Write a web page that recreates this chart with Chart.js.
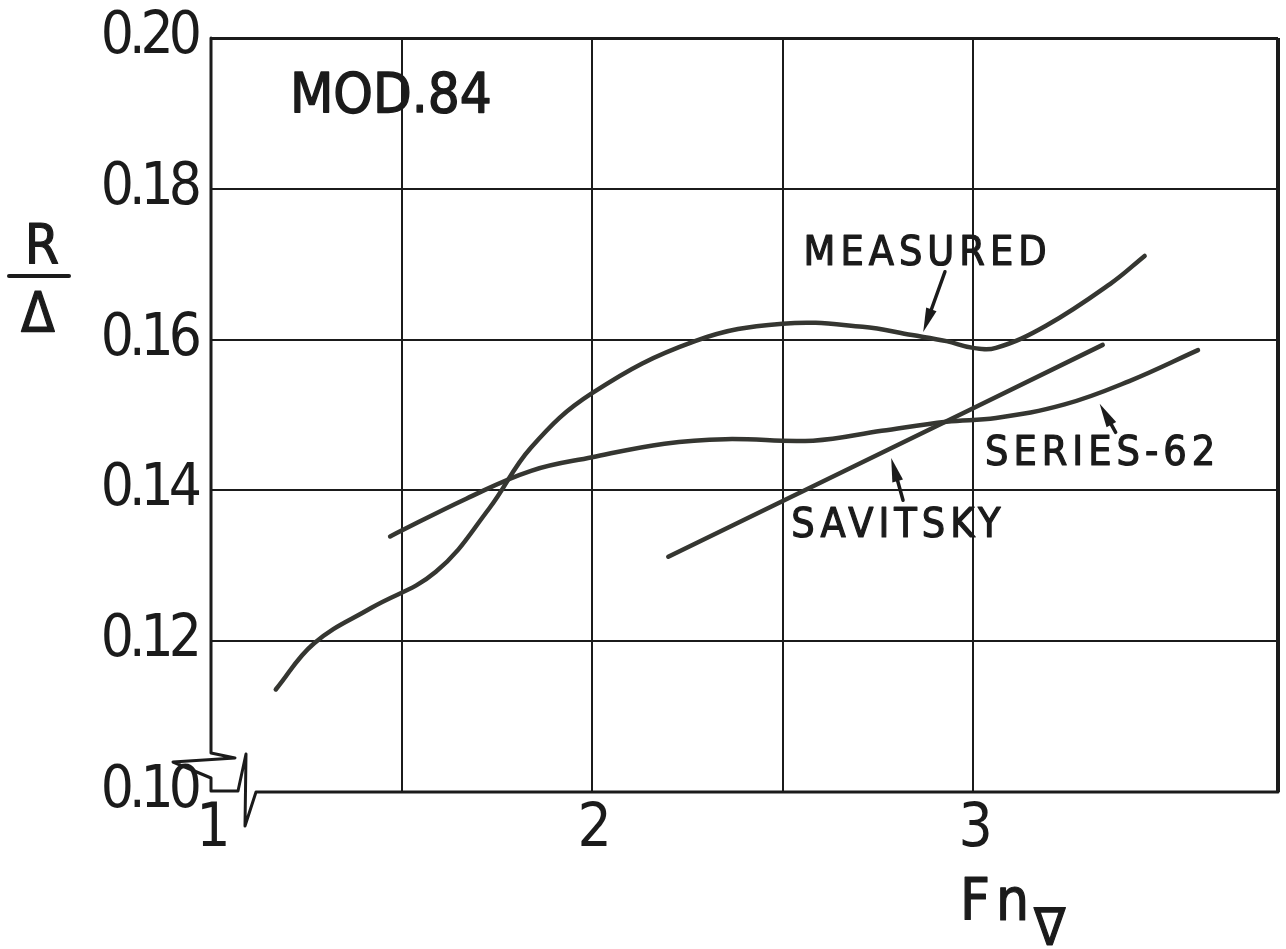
<!DOCTYPE html>
<html>
<head>
<meta charset="utf-8">
<title>MOD.84 resistance-displacement ratio</title>
<script src="https://cdn.jsdelivr.net/npm/chart.js@4.4.1/dist/chart.umd.min.js"></script>
<style>
  html, body { margin: 0; padding: 0; background: #ffffff; }
  #wrap { width: 1286px; height: 949px; }
</style>
</head>
<body>
<div id="wrap"><canvas id="chart" width="1286" height="949"></canvas></div>
<script>
// Measured resistance ratio R/Δ against volume Froude number Fn∇
const measuredFn = [1.17, 1.27, 1.42, 1.59, 1.73, 1.84, 2.00, 2.27, 2.50, 2.71, 2.84, 2.93, 3.00, 3.06,
                    3.19, 3.36, 3.45];
const measuredR  = [0.1136, 0.1197, 0.1244, 0.1292, 0.1376, 0.1457, 0.1529, 0.1598, 0.1621, 0.1617,
                    0.1606, 0.1598, 0.1589, 0.1589, 0.1618, 0.1674, 0.1711];

// Series-62 prediction
const series62Fn = [1.47, 1.67, 1.84, 2.00, 2.19, 2.35, 2.58, 2.76, 2.93, 3.06, 3.24, 3.41, 3.59];
const series62R  = [0.1339, 0.1389, 0.1426, 0.1444, 0.1462, 0.1468, 0.1466, 0.1479, 0.1491, 0.1496,
                    0.1514, 0.1545, 0.1586];

// Savitsky prediction
const savitskyFn = [2.20, 3.00, 3.34];
const savitskyR  = [0.1312, 0.1509, 0.1593];

// Axis ticks
const xTickLabels = [1, 2, 3];
const yTickLabels = ['0.10', '0.12', '0.14', '0.16', '0.18', '0.20'];

const INK = '#1b1b1b';
const CURVE = '#353631';
const FONT = "'DejaVu Sans Condensed', 'DejaVu Sans', sans-serif";

const toPoints = (xs, ys) => xs.map((v, i) => ({ x: v, y: ys[i] }));

// Curve annotations: text anchor (left, baseline) and arrow tail -> tip, in data units
const notes = [
  { text: 'MEASURED',  x: 2.555, y: 0.1699, arrow: [2.926, 0.1690, 2.869, 0.1610] },
  { text: 'SAVITSKY',  x: 2.523, y: 0.1338, arrow: [2.816, 0.1387, 2.785, 0.1443] },
  { text: 'SERIES-62', x: 3.031, y: 0.1434, arrow: [3.374, 0.1477, 3.332, 0.1515] }
];

function drawArrow(ctx, x1, y1, x2, y2) {
  const ang = Math.atan2(y2 - y1, x2 - x1);
  const len = 24, half = 5.5;
  const bx = x2 - len * Math.cos(ang), by = y2 - len * Math.sin(ang);
  ctx.beginPath();
  ctx.moveTo(x1, y1);
  ctx.lineTo(bx, by);
  ctx.stroke();
  ctx.beginPath();
  ctx.moveTo(x2, y2);
  ctx.lineTo(bx + half * Math.sin(ang), by - half * Math.cos(ang));
  ctx.lineTo(bx - half * Math.sin(ang), by + half * Math.cos(ang));
  ctx.closePath();
  ctx.fill();
}

// Filled text with a light outline, to give the stencil lettering its weight
function inkText(ctx, text, px, py, weight) {
  ctx.fillText(text, px, py);
  ctx.lineWidth = weight;
  ctx.strokeText(text, px, py);
}

const framePlugin = {
  id: 'frameAndNotes',
  beforeDraw(chart) {
    const { ctx } = chart;
    ctx.fillStyle = '#ffffff';
    ctx.fillRect(0, 0, chart.width, chart.height);
    // tighter digit spacing for the tick labels
    ctx.letterSpacing = '-5px';
  },
  beforeDatasetsDraw(chart) {
    chart.ctx.letterSpacing = '0px';
  },
  afterDraw(chart) {
    const { ctx, chartArea: a, scales: { x, y } } = chart;
    const L = x.getPixelForValue(1);
    const B = y.getPixelForValue(0.10);
    const T = y.getPixelForValue(0.20);
    ctx.save();
    ctx.strokeStyle = INK;
    ctx.fillStyle = INK;
    ctx.lineCap = 'round';
    ctx.lineJoin = 'round';

    // Left and bottom axes with the broken-axis symbol at the origin
    ctx.lineWidth = 3;
    ctx.beginPath();
    ctx.moveTo(L, T);
    ctx.lineTo(L, B - 39);
    ctx.lineTo(L + 24, B - 34);
    ctx.lineTo(L - 38, B - 30);
    ctx.lineTo(L, B - 14);
    ctx.lineTo(L, B - 1);
    ctx.lineTo(L + 27, B - 1);
    ctx.lineTo(L + 35, B - 38);
    ctx.lineTo(L + 34, B + 34);
    ctx.lineTo(L + 45, B);
    ctx.lineTo(a.right, B);
    ctx.stroke();

    // Chart caption
    ctx.font = `56px ${FONT}`;
    ctx.letterSpacing = '0px';
    ctx.textBaseline = 'alphabetic';
    ctx.textAlign = 'left';
    inkText(ctx, 'MOD.84', x.getPixelForValue(1.207), y.getPixelForValue(0.1902), 1.4);

    // Curve labels and pointer arrows
    notes.forEach(n => {
      ctx.font = `41px ${FONT}`;
      ctx.letterSpacing = '5px';
      inkText(ctx, n.text, x.getPixelForValue(n.x), y.getPixelForValue(n.y), 1.2);
      ctx.letterSpacing = '0px';
      ctx.lineWidth = 3.5;
      const [x1, y1, x2, y2] = n.arrow;
      drawArrow(ctx, x.getPixelForValue(x1), y.getPixelForValue(y1),
                     x.getPixelForValue(x2), y.getPixelForValue(y2));
    });

    // Y-axis title: R over Δ
    ctx.letterSpacing = '0px';
    ctx.textAlign = 'center';
    ctx.font = `55px ${FONT}`;
    inkText(ctx, 'R', 42, 263, 1.2);
    ctx.lineWidth = 4;
    ctx.beginPath();
    ctx.moveTo(9, 276);
    ctx.lineTo(69, 276);
    ctx.stroke();
    inkText(ctx, 'Δ', 38, 331, 1.2);

    // X-axis title: Fn with nabla subscript
    ctx.textAlign = 'left';
    ctx.font = `58px ${FONT}`;
    ctx.letterSpacing = '6px';
    inkText(ctx, 'Fn', 960, 920, 1.2);
    ctx.letterSpacing = '0px';
    ctx.font = `52px ${FONT}`;
    inkText(ctx, '∇', 1034, 945, 1.2);
    ctx.restore();
  }
};

const lineStyle = {
  showLine: true,
  borderColor: CURVE,
  borderWidth: 4.5,
  pointRadius: 0,
  fill: false,
  tension: 0.4,
  borderCapStyle: 'round',
  borderJoinStyle: 'round'
};

new Chart(document.getElementById('chart'), {
  type: 'scatter',
  data: {
    datasets: [
      { label: 'MEASURED', data: toPoints(measuredFn, measuredR), ...lineStyle },
      { label: 'SERIES-62', data: toPoints(series62Fn, series62R), ...lineStyle },
      { label: 'SAVITSKY', data: toPoints(savitskyFn, savitskyR), ...lineStyle, tension: 0 }
    ]
  },
  options: {
    responsive: false,
    animation: false,
    events: [],
    layout: { padding: { left: 0, top: 38, right: 5, bottom: 0 } },
    plugins: { legend: { display: false }, tooltip: { enabled: false }, title: { display: false } },
    scales: {
      x: {
        type: 'linear',
        min: 1,
        max: 3.8,
        afterFit: s => { s.height = 157; },
        border: { display: false },
        grid: {
          drawTicks: false,
          color: c => (c.tick && Math.abs(c.tick.value - 1) < 1e-9) ? 'rgba(0,0,0,0)' : INK,
          lineWidth: c => (c.tick && Math.abs(c.tick.value - 3.8) < 1e-9) ? 4 : 2
        },
        ticks: {
          stepSize: 0.5,
          autoSkip: false,
          maxRotation: 0,
          padding: 8,
          color: INK,
          font: { family: FONT, size: 60, lineHeight: 1 },
          callback: v => xTickLabels.find(t => Math.abs(t - v) < 1e-9) !== undefined ? String(Math.round(v)) : ''
        }
      },
      y: {
        type: 'linear',
        min: 0.10,
        max: 0.20,
        afterFit: s => { s.width = 211; },
        border: { display: false },
        grid: {
          drawTicks: false,
          color: c => (c.tick && Math.abs(c.tick.value - 0.10) < 1e-9) ? 'rgba(0,0,0,0)' : INK,
          lineWidth: c => (c.tick && Math.abs(c.tick.value - 0.20) < 1e-9) ? 3 : 2
        },
        ticks: {
          stepSize: 0.02,
          autoSkip: false,
          padding: 14,
          color: INK,
          font: { family: FONT, size: 58, lineHeight: 0.4 },
          callback: v => yTickLabels.find(t => Math.abs(parseFloat(t) - v) < 1e-9) || ''
        }
      }
    }
  },
  plugins: [framePlugin]
});
</script>
</body>
</html>
